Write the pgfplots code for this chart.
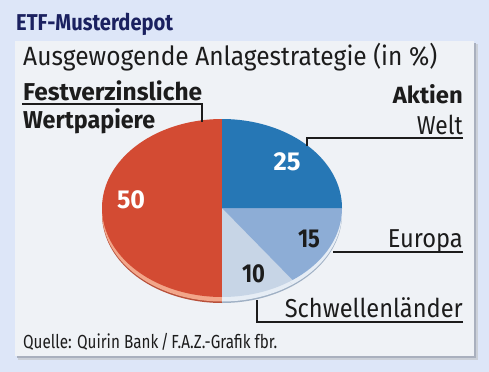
\documentclass[border=0pt]{standalone}
\usepackage{graphicx}
\usepackage{pgfplots}
\pgfplotsset{compat=1.18}
\usepackage{pgfplotstable}
\usepackage{fontspec}
\setmainfont{Fira Sans}
\definecolor{bgout}{HTML}{DDE6F8}
\definecolor{panel}{HTML}{EFF2F6}
\definecolor{shadow}{HTML}{A9B0BE}
\definecolor{navy}{HTML}{1B2160}
\definecolor{cFest}{HTML}{D34B33}
\definecolor{cWelt}{HTML}{2677B5}
\definecolor{cEuro}{HTML}{8DADD6}
\definecolor{cSchw}{HTML}{C7D5E6}
\definecolor{rFest}{HTML}{F2A68A}
\definecolor{rBlue}{HTML}{E6EDF5}
\definecolor{dFest}{HTML}{B8503A}
\definecolor{dBlue}{HTML}{9FB0C4}
\definecolor{txt}{HTML}{1C1C1C}
\pgfplotstableread{
label value
Welt 25
Europa 15
Schwellen 10
Fest 50
}\pietable
\pgfplotstablegetelem{0}{value}\of\pietable \let\vA\pgfplotsretval
\pgfplotstablegetelem{1}{value}\of\pietable \let\vB\pgfplotsretval
\pgfplotstablegetelem{2}{value}\of\pietable \let\vC\pgfplotsretval
\pgfplotstablegetelem{3}{value}\of\pietable \let\vD\pgfplotsretval
\pgfmathsetmacro\aO{90}
\pgfmathsetmacro\aA{\aO-3.6*\vA}
\pgfmathsetmacro\aB{\aA-3.6*\vB}
\pgfmathsetmacro\aC{\aB-3.6*\vC}
\pgfmathsetmacro\aD{\aC-3.6*\vD}
\def\cx{222}\def\cy{208}\def\rx{120}\def\ry{89}
\newcommand{\slice}[4]{% color, from, to, yshift
  \addplot[fill=#1, draw=none, domain=#2:#3, samples=80, variable=\t]
    ({\cx+\rx*cos(\t)},{\cy+#4-\ry*sin(\t)}) -- (\cx,\cy+#4) -- cycle;}
\newcommand{\fit}[2]{\resizebox{#1bp}{\height}{#2}}
\begin{document}
\begin{tikzpicture}
\begin{axis}[
  xmin=0, xmax=489, ymin=0, ymax=372, y dir=reverse,
  width=489bp, height=372bp, scale only axis, hide axis, clip=false]
\fill[bgout] (0,0) rectangle (489,372);
\fill[shadow!60] (18,44) rectangle (478,360);
\fill[shadow] (17,43) rectangle (476,358);
\fill[panel] (15,41) rectangle (474,356);
% rim (bottom layer)
\slice{dFest}{\aD}{\aC}{6}
\slice{dBlue}{\aC}{\aB}{6}
\slice{dBlue}{\aB}{\aA}{6}
\slice{rFest}{\aD}{\aC}{4.5}
\slice{rBlue}{\aC}{\aB}{4.5}
\slice{rBlue}{\aB}{\aA}{4.5}
% top
\slice{cFest}{\aD}{\aC}{0}
\slice{cSchw}{\aC}{\aB}{0}
\slice{cEuro}{\aB}{\aA}{0}
\slice{cWelt}{\aA}{\aO}{0}
% values
\node[anchor=base, inner sep=0, text=white, font=\bfseries\fontsize{26}{26}\selectfont] at (131,208) {\fit{28}{\vD}};
\node[anchor=base, inner sep=0, text=white, font=\bfseries\fontsize{26}{26}\selectfont] at (287,170) {\fit{27}{\vA}};
\node[anchor=base, inner sep=0, text=txt, font=\bfseries\fontsize{26}{26}\selectfont] at (309,247) {\fit{22}{\vB}};
\node[anchor=base, inner sep=0, text=txt, font=\bfseries\fontsize{26}{26}\selectfont] at (253.5,282) {\fit{23}{\vC}};
% leader lines
\draw[txt, line width=1.1pt] (22,104) -- (202,104) -- (202,122);
\draw[txt, line width=1.1pt] (463,138) -- (307,138) -- (307,146);
\draw[txt, line width=1.1pt] (463,252) -- (333,252);
\draw[txt, line width=1.1pt] (463,322) -- (257,322) -- (257,300);
% texts
\node[anchor=base west, inner sep=0, text=navy, font=\bfseries\fontsize{23}{23}\selectfont] at (16,31) {\fit{157}{ETF-Musterdepot}};
\node[anchor=base west, inner sep=0, text=txt, font=\fontsize{26.5}{26.5}\selectfont] at (23,65) {\fit{414}{Ausgewogende Anlagestrategie (in \%)}};
\node[anchor=base west, inner sep=0, text=txt, font=\bfseries\fontsize{24.5}{24.5}\selectfont] at (23,100) {\fit{179}{Festverzinsliche}};
\node[anchor=base west, inner sep=0, text=txt, font=\bfseries\fontsize{24.5}{24.5}\selectfont] at (23,128) {\fit{132}{Wertpapiere}};
\node[anchor=base east, inner sep=0, text=txt, font=\bfseries\fontsize{23.5}{23.5}\selectfont] at (463,103) {\fit{70}{Aktien}};
\node[anchor=base east, inner sep=0, text=txt, font=\fontsize{26}{26}\selectfont] at (463,134) {\fit{46}{Welt}};
\node[anchor=base east, inner sep=0, text=txt, font=\fontsize{26}{26}\selectfont] at (463,247) {\fit{75}{Europa}};
\node[anchor=base east, inner sep=0, text=txt, font=\fontsize{26}{26}\selectfont] at (463,317) {\fit{178}{Schwellenländer}};
\node[anchor=base west, inner sep=0, text=txt, font=\fontsize{19}{19}\selectfont] at (23,348) {\fit{254}{Quelle: Quirin Bank\,/\,F.A.Z.-Grafik fbr.}};
\end{axis}
\end{tikzpicture}
\end{document}
